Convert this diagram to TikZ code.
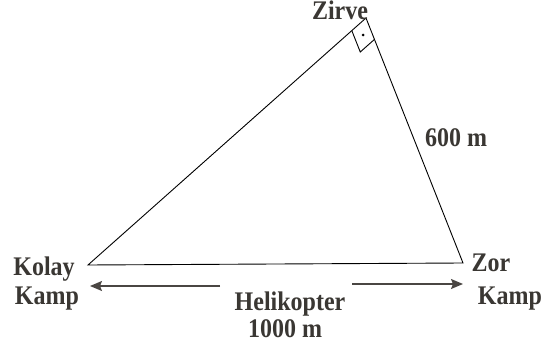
\documentclass[tikz,border=0pt]{standalone}
\usepackage{fontspec}
\setmainfont{Liberation Serif}
\usetikzlibrary{calc,arrows.meta}
\definecolor{txt}{HTML}{3A3733}
\definecolor{arr}{HTML}{4A4643}
\newcommand\tallbox[1]{\scalebox{1}[1.12]{#1}}
\tikzset{
  lbl/.style={anchor=base,inner sep=0pt,text=txt,font=\fontsize{24}{24}\selectfont\bfseries},
  side/.style={draw=black,line width=0.9pt},
  harrow/.style={draw=arr,line width=1.3pt,-{Stealth[length=12pt,width=10pt,inset=2pt]}}
}
\begin{document}
\begin{tikzpicture}[x=1pt,y=-1pt]
\useasboundingbox (0,0) rectangle (550,345);
\fill[white] (0,0) rectangle (550,345);
% vertices
\coordinate (V) at (366,18);
\coordinate (K) at (88,265);
\coordinate (Z) at (463,263);
% triangle
\draw[side,line join=miter] (K) -- (V) -- (Z) -- cycle;
% right angle mark
\coordinate (A) at ($(V)!19pt!(K)$);
\coordinate (B) at ($(V)!23pt!(Z)$);
\coordinate (C) at ($(A)+(B)-(V)$);
\draw[side] (A) -- (C) -- (B);
\fill ($(V)!0.5!(C)$) circle (1.4pt);
% labels
\node[lbl] (zirve) at (340,20) {\tallbox{Zirve}};
\node[lbl] (side) at (456,147) {\tallbox{600 m}};
\node[lbl] (kolay) at (44,275) {\tallbox{Kolay}};
\node[lbl] (kamp1) at (47,304) {\tallbox{Kamp}};
\node[lbl] (zor) at (491,272) {\tallbox{Zor}};
\node[lbl] (kamp2) at (510,304) {\tallbox{Kamp}};
\node[lbl] (heli) at (290,310) {\tallbox{Helikopter}};
\node[lbl] (dist) at (285,337) {\tallbox{1000 m}};
% arrows
\coordinate (la) at (220,286);
\coordinate (lb) at (90,286);
\coordinate (ra) at (352,284);
\coordinate (rb) at (463,284);
\draw[harrow] (la) -- (lb);
\draw[harrow] (ra) -- (rb);
\end{tikzpicture}
\end{document}
